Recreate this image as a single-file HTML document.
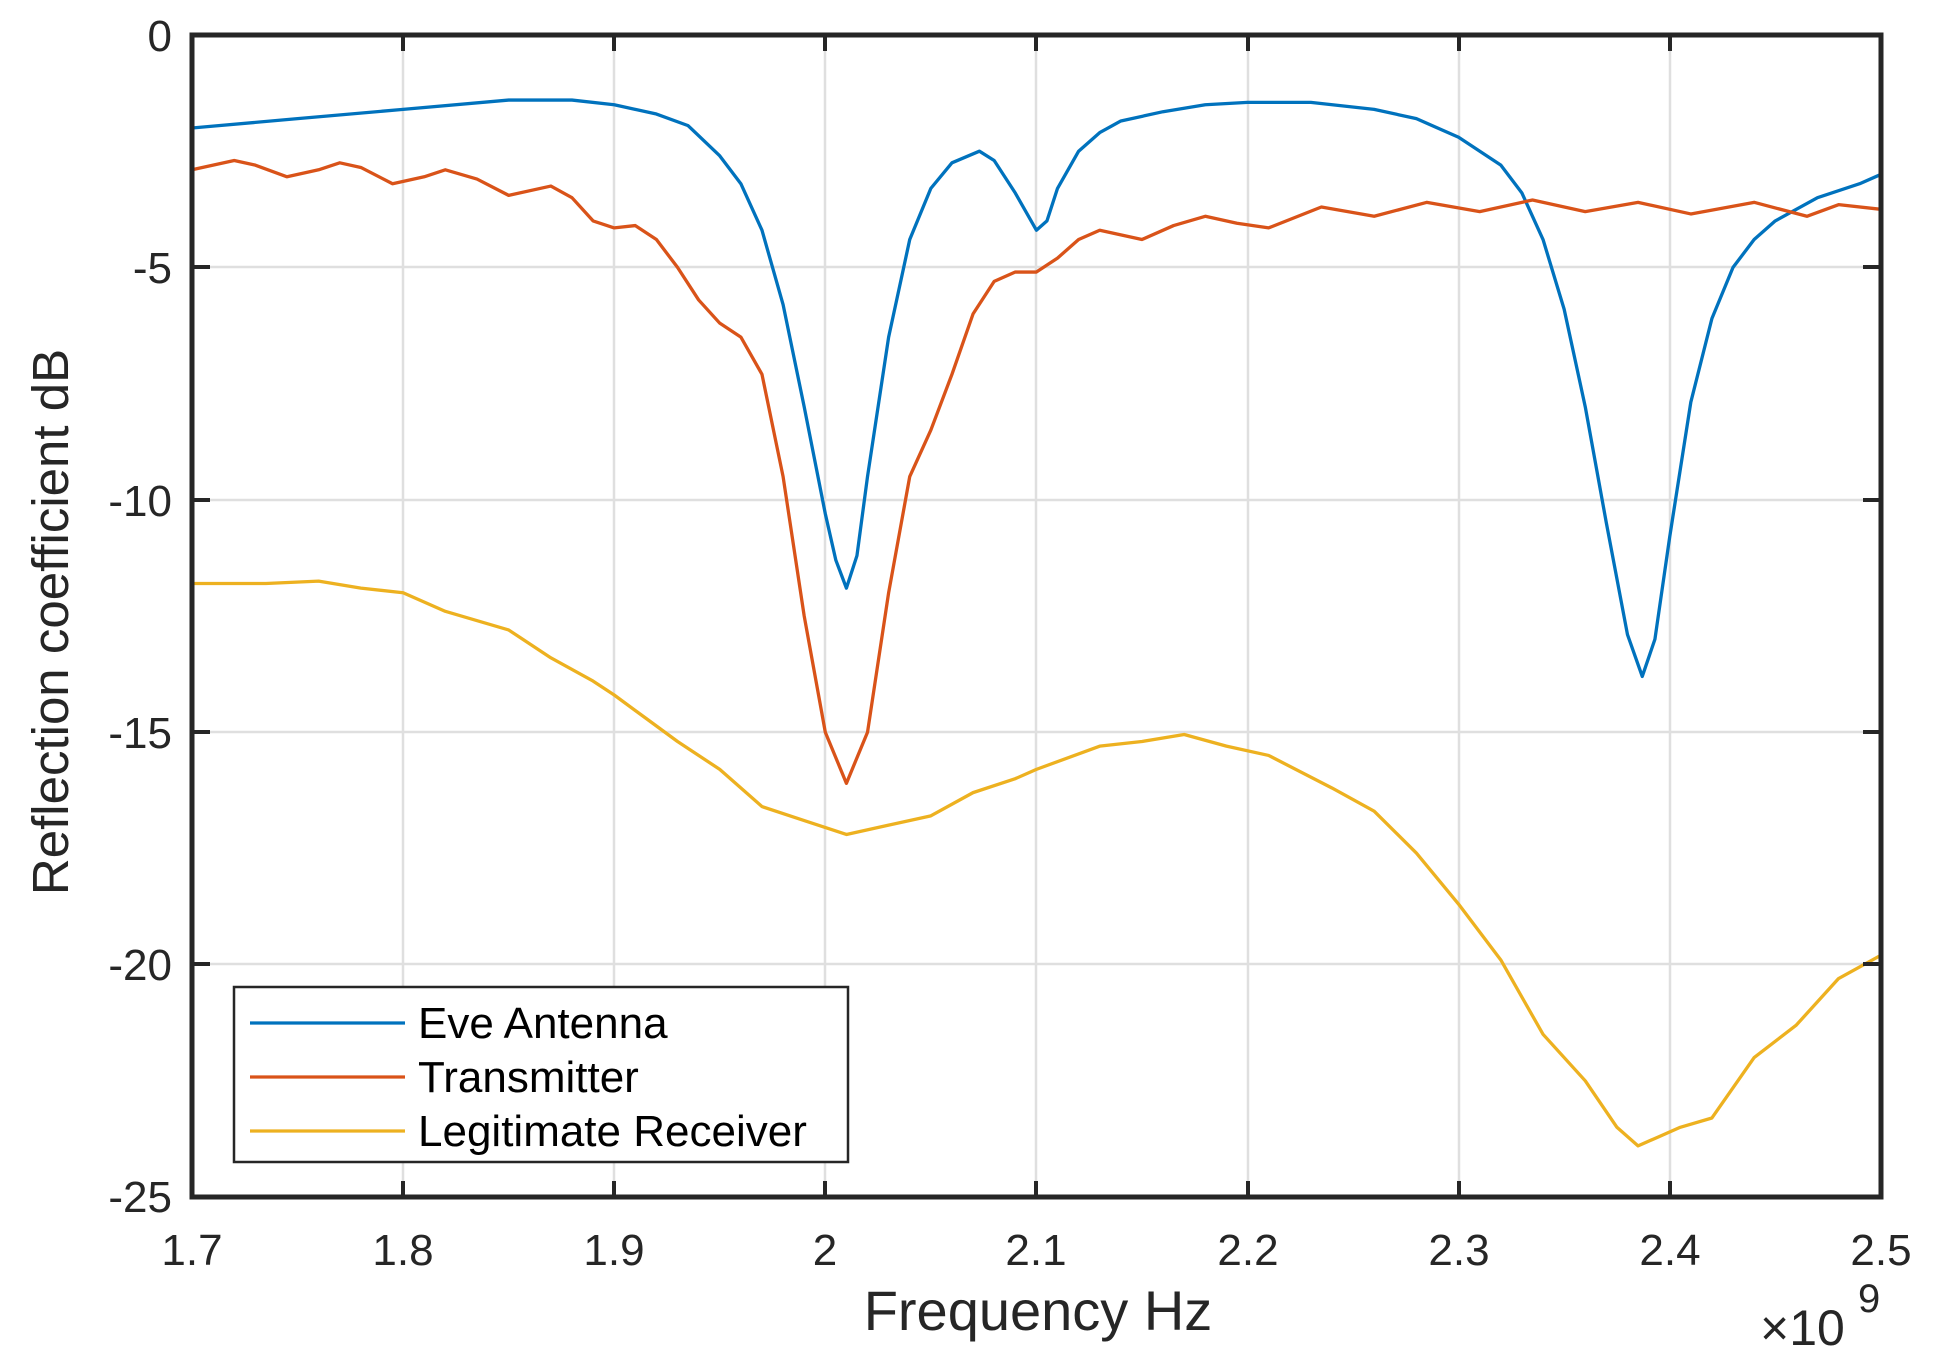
<!DOCTYPE html>
<html><head><meta charset="utf-8"><style>
html,body{margin:0;padding:0;background:#fff;}
svg{display:block;font-family:"Liberation Sans",sans-serif;}
</style></head><body>
<svg width="1938" height="1360" viewBox="0 0 1938 1360">
<rect width="1938" height="1360" fill="#fff"/>
<g stroke="#dfdfdf" stroke-width="2.5">
<line x1="403" y1="35" x2="403" y2="1197"/><line x1="614" y1="35" x2="614" y2="1197"/><line x1="825" y1="35" x2="825" y2="1197"/><line x1="1036" y1="35" x2="1036" y2="1197"/><line x1="1248" y1="35" x2="1248" y2="1197"/><line x1="1459" y1="35" x2="1459" y2="1197"/><line x1="1670" y1="35" x2="1670" y2="1197"/>
<line x1="192" y1="267" x2="1881" y2="267"/><line x1="192" y1="500" x2="1881" y2="500"/><line x1="192" y1="732" x2="1881" y2="732"/><line x1="192" y1="964" x2="1881" y2="964"/>
</g>
<g transform="translate(192,35) scale(2111,-46.48) translate(-1.7,0)" fill="none" stroke-width="3.3" stroke-linejoin="round">
<polyline vector-effect="non-scaling-stroke" stroke="#0072bd" points="1.7,-2.0 1.75,-1.8 1.8,-1.6 1.85,-1.4 1.88,-1.4 1.9,-1.5 1.92,-1.7 1.935,-1.95 1.95,-2.6 1.96,-3.2 1.97,-4.2 1.98,-5.8 1.99,-8.0 2.0,-10.3 2.005,-11.3 2.01,-11.9 2.015,-11.2 2.02,-9.5 2.03,-6.5 2.04,-4.4 2.05,-3.3 2.06,-2.75 2.073,-2.5 2.08,-2.7 2.09,-3.4 2.1,-4.2 2.105,-4.0 2.11,-3.3 2.12,-2.5 2.13,-2.1 2.14,-1.85 2.16,-1.65 2.18,-1.5 2.2,-1.45 2.23,-1.45 2.26,-1.6 2.28,-1.8 2.3,-2.2 2.32,-2.8 2.33,-3.4 2.34,-4.4 2.35,-5.9 2.36,-8.0 2.37,-10.5 2.38,-12.9 2.387,-13.8 2.393,-13.0 2.4,-10.8 2.41,-7.9 2.42,-6.1 2.43,-5.0 2.44,-4.4 2.45,-4.0 2.47,-3.5 2.49,-3.2 2.5,-3.0"/>
<polyline vector-effect="non-scaling-stroke" stroke="#d95319" points="1.7,-2.9 1.71,-2.8 1.72,-2.7 1.73,-2.8 1.745,-3.05 1.76,-2.9 1.77,-2.75 1.78,-2.85 1.795,-3.2 1.81,-3.05 1.82,-2.9 1.835,-3.1 1.85,-3.45 1.87,-3.25 1.88,-3.5 1.89,-4.0 1.9,-4.15 1.91,-4.1 1.92,-4.4 1.93,-5.0 1.94,-5.7 1.95,-6.2 1.96,-6.5 1.97,-7.3 1.98,-9.5 1.99,-12.5 2.0,-15.0 2.01,-16.1 2.02,-15.0 2.03,-12.0 2.04,-9.5 2.05,-8.5 2.06,-7.3 2.07,-6.0 2.08,-5.3 2.09,-5.1 2.1,-5.1 2.11,-4.8 2.12,-4.4 2.13,-4.2 2.15,-4.4 2.165,-4.1 2.18,-3.9 2.195,-4.05 2.21,-4.15 2.235,-3.7 2.26,-3.9 2.285,-3.6 2.31,-3.8 2.335,-3.55 2.36,-3.8 2.385,-3.6 2.41,-3.85 2.44,-3.6 2.465,-3.9 2.48,-3.65 2.5,-3.75"/>
<polyline vector-effect="non-scaling-stroke" stroke="#edb120" points="1.7,-11.8 1.735,-11.8 1.76,-11.75 1.78,-11.9 1.8,-12.0 1.82,-12.4 1.85,-12.8 1.87,-13.4 1.89,-13.9 1.9,-14.2 1.915,-14.7 1.93,-15.2 1.95,-15.8 1.97,-16.6 1.99,-16.9 2.01,-17.2 2.03,-17.0 2.05,-16.8 2.07,-16.3 2.09,-16.0 2.1,-15.8 2.13,-15.3 2.15,-15.2 2.17,-15.05 2.19,-15.3 2.21,-15.5 2.24,-16.2 2.26,-16.7 2.28,-17.6 2.3,-18.7 2.32,-19.9 2.34,-21.5 2.36,-22.5 2.375,-23.5 2.385,-23.9 2.395,-23.7 2.405,-23.5 2.42,-23.3 2.44,-22.0 2.46,-21.3 2.48,-20.3 2.5,-19.8"/>
</g>
<g stroke="#262626" stroke-width="5" fill="none">
<rect x="192" y="35" width="1689" height="1162"/>
</g>
<g stroke="#262626" stroke-width="4">
<line x1="403" y1="1197" x2="403" y2="1181"/><line x1="614" y1="1197" x2="614" y2="1181"/><line x1="825" y1="1197" x2="825" y2="1181"/><line x1="1036" y1="1197" x2="1036" y2="1181"/><line x1="1248" y1="1197" x2="1248" y2="1181"/><line x1="1459" y1="1197" x2="1459" y2="1181"/><line x1="1670" y1="1197" x2="1670" y2="1181"/>
<line x1="403" y1="35" x2="403" y2="51"/><line x1="614" y1="35" x2="614" y2="51"/><line x1="825" y1="35" x2="825" y2="51"/><line x1="1036" y1="35" x2="1036" y2="51"/><line x1="1248" y1="35" x2="1248" y2="51"/><line x1="1459" y1="35" x2="1459" y2="51"/><line x1="1670" y1="35" x2="1670" y2="51"/>
<line x1="192" y1="267" x2="210" y2="267"/><line x1="192" y1="500" x2="210" y2="500"/><line x1="192" y1="732" x2="210" y2="732"/><line x1="192" y1="964" x2="210" y2="964"/>
<line x1="1881" y1="267" x2="1863" y2="267"/><line x1="1881" y1="500" x2="1863" y2="500"/><line x1="1881" y1="732" x2="1863" y2="732"/><line x1="1881" y1="964" x2="1863" y2="964"/>
</g>
<g fill="#262626" font-size="44" text-anchor="end">
<text x="172" y="51">0</text><text x="172" y="283">-5</text><text x="172" y="516">-10</text><text x="172" y="748">-15</text><text x="172" y="980">-20</text><text x="172" y="1212">-25</text>
</g>
<g fill="#262626" font-size="44" text-anchor="middle">
<text x="192" y="1265">1.7</text><text x="403" y="1265">1.8</text><text x="614" y="1265">1.9</text><text x="825" y="1265">2</text><text x="1036" y="1265">2.1</text><text x="1248" y="1265">2.2</text><text x="1459" y="1265">2.3</text><text x="1670" y="1265">2.4</text><text x="1881" y="1265">2.5</text>
<text x="1038" y="1330" font-size="56">Frequency Hz</text>
<text transform="translate(68,622) rotate(-90)" font-size="51">Reflection coefficient  dB</text>
</g>
<text x="1760" y="1345" font-size="50" fill="#262626">×10</text>
<text x="1858" y="1312" font-size="40" fill="#262626">9</text>
<rect x="234" y="987" width="614" height="175" fill="#fff" stroke="#262626" stroke-width="2.5"/>
<g stroke-width="3.3">
<line x1="250" y1="1023" x2="405" y2="1023" stroke="#0072bd"/>
<line x1="250" y1="1077" x2="405" y2="1077" stroke="#d95319"/>
<line x1="250" y1="1131" x2="405" y2="1131" stroke="#edb120"/>
</g>
<g fill="#000" font-size="44">
<text x="418" y="1038">Eve Antenna</text>
<text x="418" y="1092">Transmitter</text>
<text x="418" y="1146">Legitimate Receiver</text>
</g>
</svg>
</body></html>
